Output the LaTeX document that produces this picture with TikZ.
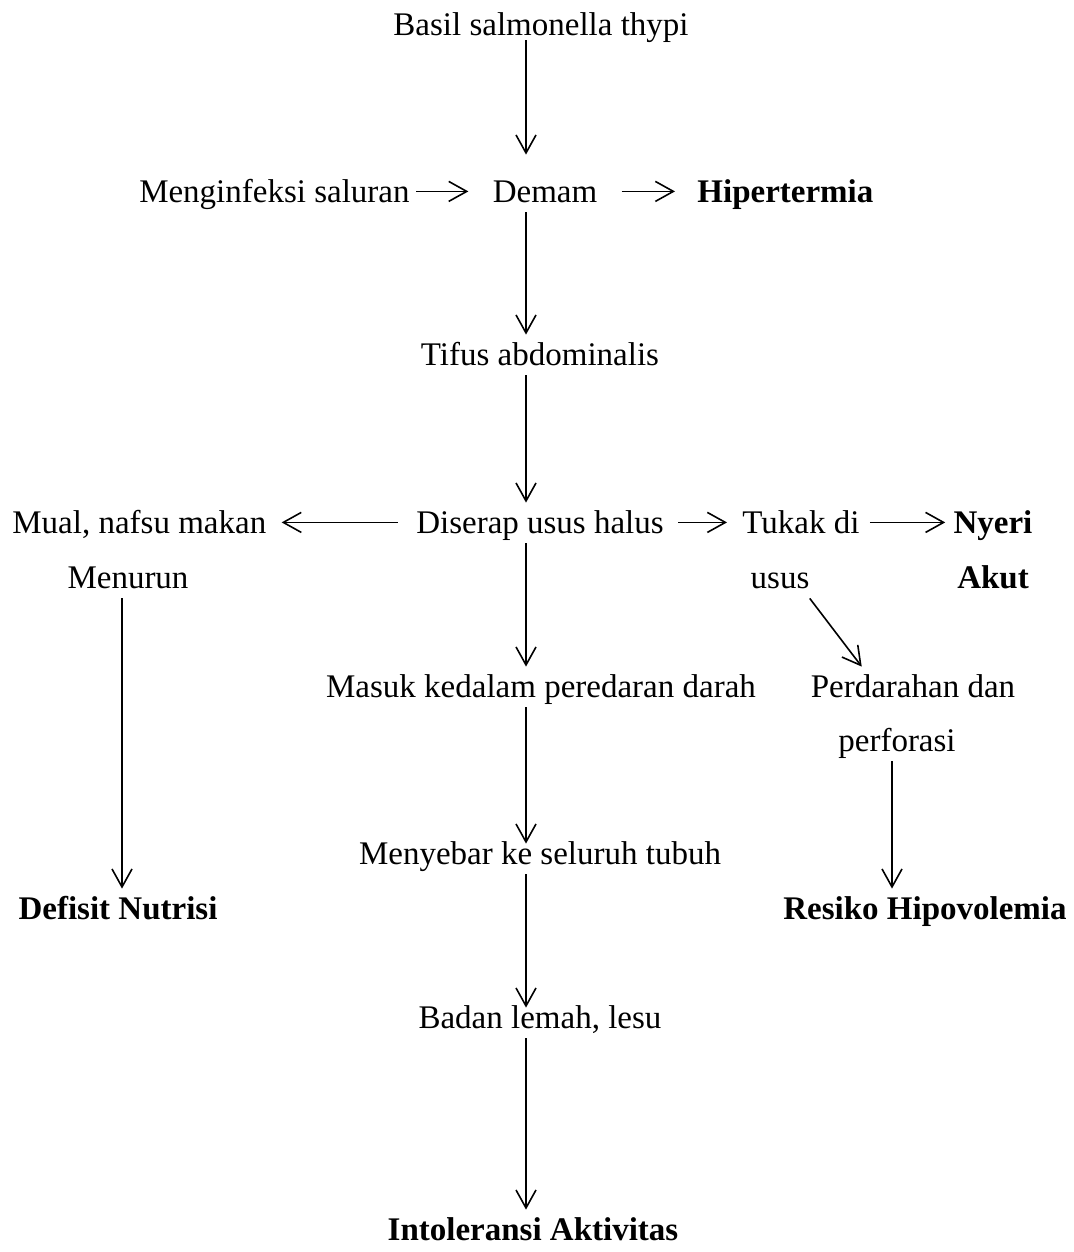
\documentclass[tikz,border=0pt]{standalone}
\usepackage{fontspec}
\setmainfont{Liberation Serif}
\usetikzlibrary{arrows.meta,calc}
\tikzset{
  txt/.style={inner sep=0pt, text height=15pt, text depth=5pt, anchor=base,
    font=\fontsize{16.5}{20}\selectfont},
  dx/.style={txt, font=\fontsize{16.5}{20}\selectfont\bfseries},
  arr/.style={line width=0.8pt, -{Straight Barb[length=9pt,width=10pt]}}
}
\begin{document}
\begin{tikzpicture}[x=0.5pt, y=-0.5pt]
  \useasboundingbox (0,0) rectangle (1073,1252);
  \coordinate (spine) at (526,0);
  % texts
  \node[txt] (basil) at (541,36) {Basil salmonella thypi};
  \node[txt, anchor=base east] (infeksi) at (410,202) {Menginfeksi saluran};
  \node[txt] (demam) at (545,202) {Demam};
  \node[dx, anchor=base west] (hiper) at (697,202) {Hipertermia};
  \node[txt] (tifus) at (540,365) {Tifus abdominalis};
  \node[txt, anchor=base west] (mual) at (12,533) {Mual, nafsu makan};
  \node[txt] (serap) at (540,533) {Diserap usus halus};
  \node[txt, anchor=base west] (tukak) at (742,533) {Tukak di};
  \node[dx] (nyeri) at (993,533) {Nyeri};
  \node[txt] (menurun) at (128,588) {Menurun};
  \node[txt] (usus) at (780,588) {usus};
  \node[dx] (akut) at (993,588) {Akut};
  \node[txt] (masuk) at (541,697) {Masuk kedalam peredaran darah};
  \node[txt] (perdarahan) at (913,697) {Perdarahan dan};
  \node[txt] (perforasi) at (897,751) {perforasi};
  \node[txt] (sebar) at (540,864) {Menyebar ke seluruh tubuh};
  \node[dx] (defisit) at (118,919) {Defisit Nutrisi};
  \node[dx] (resiko) at (925,919) {Resiko Hipovolemia};
  \node[txt] (badan) at (540,1028) {Badan lemah, lesu};
  \node[dx] (intol) at (533,1240) {Intoleransi Aktivitas};
  % arrows
  \draw[arr, shorten <=-3pt, shorten >=8.5pt] (basil.south -| spine) -- (demam.north -| spine);
  \draw[arr, shorten <=3pt, shorten >=12pt] ([yshift=3pt]infeksi.mid east) -- ([yshift=3pt]demam.mid west);
  \draw[arr, shorten <=12pt, shorten >=11pt] ([yshift=3pt]demam.mid east) -- ([yshift=3pt]hiper.mid west);
  \draw[arr] (demam.south -| spine) -- (tifus.north -| spine);
  \draw[arr] (tifus.south -| spine) -- (serap.north -| spine);
  \draw[arr, shorten <=9pt, shorten >=7.5pt] ([yshift=3pt]serap.mid west) -- ([yshift=3pt]mual.mid east);
  \draw[arr, shorten <=7pt, shorten >=7.5pt] ([yshift=3pt]serap.mid east) -- ([yshift=3pt]tukak.mid west);
  \draw[arr, shorten <=5pt, shorten >=4pt] ([yshift=3pt]tukak.mid east) -- ([yshift=3pt]nyeri.mid west);
  \draw[arr] ([xshift=-3pt]menurun.south) -- ([xshift=-3pt]menurun.south |- defisit.north);
  \draw[arr] (usus.south east) -- ($(perdarahan.north west)!0.5!(perdarahan.north)$);
  \draw[arr] ([xshift=-2.5pt]perforasi.south) -- ([xshift=-2.5pt]perforasi.south |- resiko.north);
  \draw[arr] (serap.south -| spine) -- (masuk.north -| spine);
  \draw[arr, shorten >=-5pt] (masuk.south -| spine) -- (sebar.north -| spine);
  \draw[arr, shorten >=-5pt] (sebar.south -| spine) -- (badan.north -| spine);
  \draw[arr] (badan.south -| spine) -- (intol.north -| spine);
\end{tikzpicture}
\end{document}
